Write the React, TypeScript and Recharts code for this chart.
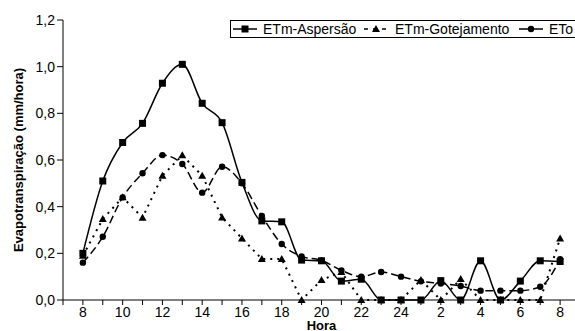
import React from "react";
import { LineChart, Line, XAxis, YAxis } from "recharts";

const hours = ["8", "9", "10", "11", "12", "13", "14", "15", "16", "17", "18", "19", "20", "21", "22", "23", "24", "1", "2", "3", "4", "5", "6", "7", "8"];
const aspersao = [0.2, 0.51, 0.675, 0.757, 0.929, 1.01, 0.843, 0.76, 0.504, 0.339, 0.335, 0.171, 0.168, 0.081, 0.089, 0, 0, 0, 0.083, 0, 0.168, 0, 0.081, 0.168, 0.165];
const gotejamento = [0.19, 0.347, 0.44, 0.353, 0.533, 0.62, 0.533, 0.354, 0.264, 0.176, 0.176, 0, 0.086, 0.12, 0, 0, 0, 0.086, 0, 0.09, 0, 0, 0, 0, 0.264];
const eto = [0.16, 0.271, 0.44, 0.543, 0.621, 0.583, 0.46, 0.571, 0.5, 0.36, 0.24, 0.187, 0.17, 0.127, 0.1, 0.12, 0.1, 0.08, 0.071, 0.06, 0.04, 0.04, 0.04, 0.057, 0.175];
const yTicks = [0, 0.2, 0.4, 0.6, 0.8, 1.0, 1.2];

const data = hours.map((h, i) => ({
  idx: i,
  hora: h,
  aspersao: aspersao[i],
  gotejamento: gotejamento[i],
  eto: eto[i],
}));

const xTicks = [-1, ...hours.map((_, i) => i)];
const font = "'Liberation Sans', Arial, sans-serif";

const SquareDot = (props: any) => {
  const { cx, cy } = props;
  if (cx == null || cy == null) return null;
  return <rect key={props.key} x={cx - 3.5} y={cy - 3.5} width={7} height={7} fill="#000" />;
};

const TriangleDot = (props: any) => {
  const { cx, cy } = props;
  if (cx == null || cy == null) return null;
  return (
    <path
      key={props.key}
      d={`M${cx},${cy - 4} L${cx + 4},${cy + 3} L${cx - 4},${cy + 3} Z`}
      fill="#000"
    />
  );
};

const CircleDot = (props: any) => {
  const { cx, cy } = props;
  if (cx == null || cy == null) return null;
  return <circle key={props.key} cx={cx} cy={cy} r={3.2} fill="#000" />;
};

const legendItems = [
  { name: "ETm-Aspersão", dash: undefined, marker: "square", x: 233, textX: 263 },
  { name: "ETm-Gotejamento", dash: "4 5", marker: "triangle", x: 364, textX: 395 },
  { name: "ETo", dash: undefined, marker: "circle", x: 519, textX: 549 },
];

const Legend = () => (
  <div
    style={{
      position: "absolute",
      left: 230,
      top: 20,
      width: 400,
      height: 18,
      border: "1px solid #000",
      boxSizing: "border-box",
      background: "#fff",
    }}
  >
    <svg width={400} height={18} style={{ position: "absolute", left: -1, top: -1 }}>
      {legendItems.map((it) => {
        const x0 = it.x - 230;
        const mx = x0 + 12;
        return (
          <g key={it.name}>
            <line x1={x0} y1={9} x2={x0 + 24} y2={9} stroke="#000" strokeWidth={1.5} strokeDasharray={it.dash} />
            {it.marker === "square" && <rect x={mx - 3.5} y={5.5} width={7} height={7} fill="#000" />}
            {it.marker === "triangle" && <path d={`M${mx},${5} L${mx + 4},${12} L${mx - 4},${12} Z`} fill="#000" />}
            {it.marker === "circle" && <circle cx={mx} cy={9} r={3.2} fill="#000" />}
            <text x={it.textX - 230} y={14} fontSize={14} fontFamily={font} fill="#000">
              {it.name}
            </text>
          </g>
        );
      })}
    </svg>
  </div>
);

const YLabel = (props: any) => {
  const vb = props.viewBox || {};
  const x = 20;
  const y = (vb.y ?? 20) + (vb.height ?? 280) / 2;
  return (
    <text x={x} y={y} transform={`rotate(-90, ${x}, ${y})`} textAnchor="middle" dominantBaseline="middle" fontSize={13} fontWeight="bold" fontFamily={font} fill="#000">
      Evapotranspiração (mm/hora)
    </text>
  );
};

const XLabel = (props: any) => {
  const vb = props.viewBox || {};
  const x = (vb.x ?? 63) + (vb.width ?? 517) / 2;
  return (
    <text x={x} y={330} textAnchor="middle" fontSize={13} fontWeight="bold" fontFamily={font} fill="#000">
      Hora
    </text>
  );
};

export default function App() {
  return (
    <div style={{ position: "absolute", left: 0, top: 0, width: 575, height: 331, overflow: "hidden", background: "#fff", fontFamily: font }}>
      <LineChart width={600} height={331} data={data} margin={{ top: 20, right: 20, bottom: 0, left: 0 }}>
        <XAxis
          dataKey="idx"
          type="number"
          domain={[-1, 25]}
          ticks={xTicks}
          interval={0}
          tickFormatter={(v: number) => (v >= 0 && v % 2 === 0 ? hours[v] : "")}
          tick={{ fontSize: 14, fill: "#000", fontFamily: font }}
          tickSize={5}
          tickLine={{ stroke: "#000" }}
          axisLine={{ stroke: "#000" }}
          height={31}
          label={<XLabel />}
        />
        <YAxis
          domain={[0, 1.2]}
          ticks={yTicks}
          interval={0}
          tickFormatter={(v: number) => v.toFixed(1).replace(".", ",")}
          tick={{ fontSize: 14, fill: "#000", fontFamily: font }}
          tickSize={6}
          tickLine={{ stroke: "#000" }}
          axisLine={{ stroke: "#000" }}
          width={63}
          label={<YLabel />}
        />
        <Line
          type="monotone"
          dataKey="aspersao"
          stroke="#000"
          strokeWidth={1.5}
          dot={SquareDot}
          isAnimationActive={false}
        />
        <Line
          type="linear"
          dataKey="gotejamento"
          stroke="#000"
          strokeWidth={2}
          strokeDasharray="2 5"
          dot={TriangleDot}
          isAnimationActive={false}
        />
        <Line
          type="monotone"
          dataKey="eto"
          stroke="#000"
          strokeWidth={1.5}
          strokeDasharray="8 4"
          dot={CircleDot}
          isAnimationActive={false}
        />
      </LineChart>
      <Legend />
    </div>
  );
}
